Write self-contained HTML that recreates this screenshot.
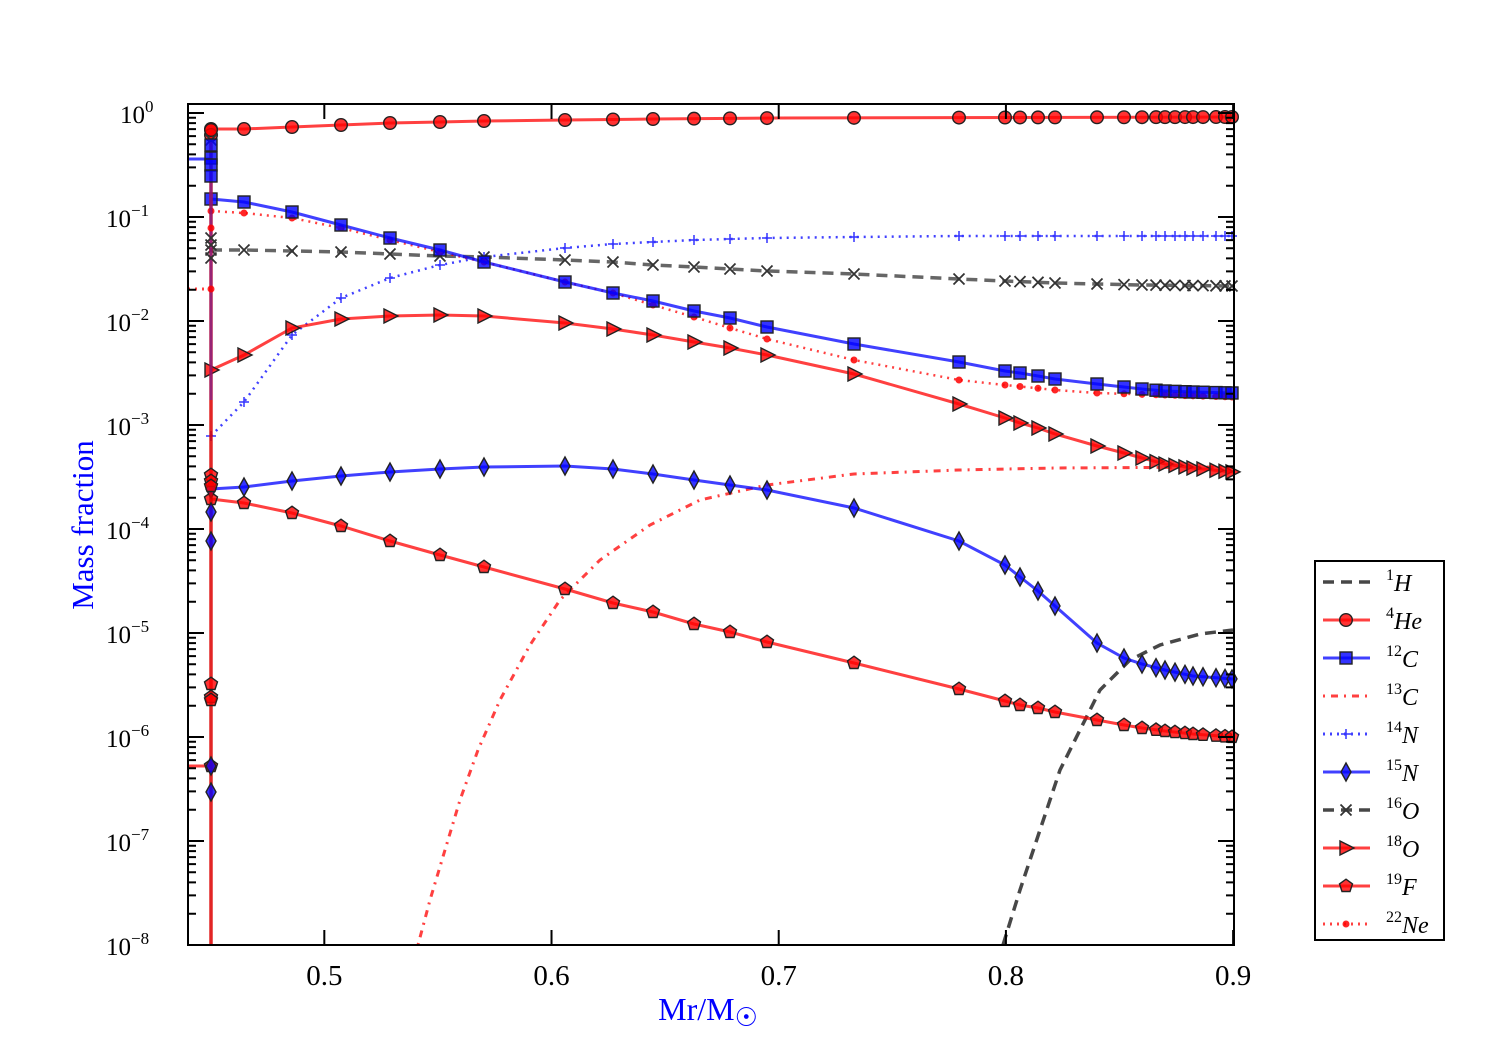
<!DOCTYPE html>
<html><head><meta charset="utf-8"><style>
html,body{margin:0;padding:0;background:#fff;width:1500px;height:1050px;overflow:hidden}
svg{display:block;font-family:"Liberation Serif",serif}
</style></head><body>
<svg id="s" width="1500" height="1050" xmlns="http://www.w3.org/2000/svg"></svg>
<script>
const S=document.getElementById('s');let h='';
const L=188,R=1234,T=104,B=945;
function Y(l){return 113-104*l;}
const grid=[211,244,292,341,390,440,484,565,613,653,694,730,767,854,959,1005,1020,1038,1055,1097,1124,1142,1156,1165,1175,1185,1193,1203,1216,1225,1232];
function interp(p,x){for(let i=0;i<p.length-1;i++){if(x>=p[i][0]&&x<=p[i+1][0]){const t=(x-p[i][0])/(p[i+1][0]-p[i][0]);return p[i][1]+t*(p[i+1][1]-p[i][1]);}}return p[p.length-1][1];}
function path(p,col,w,dash,op){h+=`<polyline points="${p.map(a=>a.join(',')).join(' ')}" fill="none" stroke="${col}" stroke-width="${w}" ${dash?`stroke-dasharray="${dash}"`:''} opacity="${op||0.75}"/>`;}
function mk(type,x,y,fill){const st=`fill="${fill}" fill-opacity="0.8" stroke="#222" stroke-width="1.4"`;
 if(type=='o')return `<circle cx="${x}" cy="${y}" r="6.3" ${st}/>`;
 if(type=='s')return `<rect x="${x-6}" y="${y-6}" width="12" height="12" ${st}/>`;
 if(type=='d')return `<polygon points="${x},${y-9} ${x+5},${y} ${x},${y+9} ${x-5},${y}" ${st}/>`;
 if(type=='t')return `<polygon points="${x-6},${y-7} ${x+8},${y} ${x-6},${y+7}" ${st}/>`;
 if(type=='p'){let q=[];for(let i=0;i<5;i++){const a=-Math.PI/2+i*2*Math.PI/5;q.push((x+6.8*Math.cos(a)).toFixed(1)+','+(y+6.8*Math.sin(a)).toFixed(1));}return `<polygon points="${q.join(' ')}" ${st}/>`;}
 if(type=='x')return `<path d="M${x-5.5},${y-5.5}L${x+5.5},${y+5.5}M${x-5.5},${y+5.5}L${x+5.5},${y-5.5}" stroke="#333" stroke-width="1.8"/>`;
 if(type=='+')return `<path d="M${x-5},${y}L${x+5},${y}M${x},${y-5}L${x},${y+5}" stroke="#33f" stroke-width="1.5"/>`;
 if(type=='.')return `<circle cx="${x}" cy="${y}" r="3.5" fill="red" opacity="0.85"/>`;}
function series(p,col,w,dash,m,fill){path(p,col,w,dash);let s='';for(const x of grid){if(x<p[0][0])continue;s+=mk(m,x,interp(p,x),fill);}h+=s;}
path([[188,159],[211,159]],'blue',3);
path([[188,289],[211,289]],'red',3,'2,5');
path([[188,766],[211,766]],'red',3);
const He=[[211,129],[244,129],[292,127],[341,125],[390,123],[440,122],[484,121],[565,120],[653,119],[778,118],[1233,117]];
const C12=[[211,199],[244,202],[292,212],[341,225],[390,238],[440,250],[484,262],[565,282],[613,293],[653,301],[694,311],[730,318],[767,327],[854,344],[959,362],[1005,371],[1020,373],[1038,376],[1055,379],[1097,384],[1124,387],[1142,389],[1165,391],[1193,392],[1233,393]];
const Ne=[[211,211],[244,213],[292,218],[341,228],[390,240],[440,252],[484,262],[565,282],[613,293],[653,305],[694,317],[730,328],[767,339],[854,360],[959,380],[1005,385],[1055,390],[1097,393],[1233,397]];
const O16=[[211,250],[244,250],[292,251],[341,252],[390,254],[440,256],[484,257],[565,260],[613,262],[653,265],[694,267],[730,269],[767,271],[854,274],[959,279],[1005,281],[1055,283],[1097,284],[1142,285],[1233,286]];
const N14=[[211,436],[244,402],[292,335],[341,298],[390,278],[440,265],[484,257],[565,248],[613,244],[653,242],[694,240],[767,238],[854,237],[959,236],[1233,236]];
const O18=[[211,370],[244,355],[292,328],[341,319],[390,316],[440,315],[484,316],[565,323],[613,329],[653,335],[694,342],[730,348],[767,355],[854,374],[959,404],[1005,418],[1020,423],[1038,428],[1055,434],[1097,446],[1124,453],[1142,458],[1165,464],[1193,468],[1233,472]];
const N15=[[211,489],[244,487],[292,481],[341,476],[390,472],[440,469],[484,467],[565,466],[613,469],[653,474],[694,480],[730,485],[767,490],[854,508],[959,541],[1005,565],[1020,577],[1038,591],[1055,606],[1097,643],[1124,658],[1142,664],[1165,670],[1193,676],[1233,679]];
const F19=[[211,499],[244,503],[292,513],[341,526],[390,541],[440,555],[484,567],[565,589],[613,603],[653,612],[694,624],[730,632],[767,642],[854,663],[959,689],[1005,701],[1020,705],[1038,708],[1055,712],[1097,720],[1124,725],[1142,728],[1165,731],[1193,734],[1233,737]];
const C13=[[418,945],[430,900],[445,850],[460,800],[478,750],[500,700],[530,645],[560,600],[600,560],[650,525],[700,500],[767,485],[854,474],[959,470],[1055,468],[1233,467]];
const H1=[[1003,945],[1020,890],[1040,830],[1060,770],[1080,730],[1100,690],[1130,660],[1160,645],[1200,634],[1233,630]];
path(C13,'red',3,'2,6,7,6');
path(H1,'#333',3.5,'11,7',0.9);
series(O16,'#333',3.5,'11,7','x');
series(N14,'blue',2.5,'2,5','+');
series(Ne,'red',2.5,'2,5','.');
series(F19,'red',3,null,'p','red');
series(N15,'blue',3,null,'d','blue');
series(O18,'red',3,null,'t','red');
series(C12,'blue',3,null,'s','blue');
series(He,'red',3,null,'o','red');
h+=`<line x1="211" y1="135" x2="211" y2="945" stroke="#d00" stroke-width="3.5" opacity="0.85"/>`;
h+=`<line x1="211" y1="150" x2="211" y2="400" stroke="#62a" stroke-width="3" opacity="0.6"/>`;
[[135,'o','red'],[130,'o','red'],[140,'x'],[145,'s','blue'],[158,'s','blue'],[165,'s','blue'],[176,'s','blue'],[238,'x'],[245,'x'],[258,'x'],[228,'.'],[289,'.'],[475,'p','red'],[481,'p','red'],[486,'p','red'],[512,'d','blue'],[541,'d','blue'],[684,'p','red'],[697,'p','red'],[700,'p','red'],[766,'p','red'],[766,'d','blue'],[792,'d','blue']].forEach(a=>{h+=mk(a[1],211,a[0],a[2]);});
h+=`<rect x="${L}" y="${T}" width="${R-L}" height="${B-T}" fill="none" stroke="#000" stroke-width="2"/>`;
let t='';
for(let d=0;d>=-8;d--){const y=Y(d);t+=`<path d="M${L},${y}H${L+16}M${R},${y}H${R-16}"/>`;
 const lab=`10<tspan dy="-11" font-size="17">${d==0?0:'−'+(-d)}</tspan>`;
 h+=`<text x="${d==0?120:106}" y="${y+10}" font-size="25" fill="#000">${lab}</text>`;}
for(let d=0;d>=-8;d--){for(let k=2;k<=9;k++){const y=Y(d-1+Math.log10(k));if(y<T||y>B)continue;t+=`<path d="M${L},${y}H${L+8}M${R},${y}H${R-8}"/>`;}}
[0.5,0.6,0.7,0.8,0.9].forEach(v=>{const x=188+(v-0.44)*2272;t+=`<path d="M${x},${B}V${B-15}M${x},${T}V${T+15}"/>`;h+=`<text x="${x}" y="985" font-size="29" text-anchor="middle">${v}</text>`;});
h+=`<g stroke="#000" stroke-width="2">${t}</g>`;
h+=`<text x="708" y="1020" font-size="32" fill="blue" text-anchor="middle">Mr/M<tspan font-size="26" dy="6">☉</tspan></text>`;
h+=`<text transform="translate(93,525) rotate(-90)" font-size="31" fill="blue" text-anchor="middle">Mass fraction</text>`;
h+=`<rect x="1315" y="561" width="129" height="379" fill="#fff" stroke="#000" stroke-width="2"/>`;
const lg=[['1','H','h'],['4','He','o'],['12','C','s'],['13','C','c'],['14','N','+'],['15','N','d'],['16','O','x'],['18','O','t'],['19','F','p'],['22','Ne','.']];
lg.forEach((e,i)=>{const y=582+i*38;const x0=1323,x1=1370,xm=1346;
 let col,dash=null,w=3;
 if(e[2]=='h'||e[2]=='x'){col='#333';dash='11,7';w=3.5}
 else if(e[2]=='s'||e[2]=='d'||e[2]=='+')col='blue';else col='red';
 if(e[2]=='c')dash='2,6,7,6';if(e[2]=='+'||e[2]=='.')dash='2,5';
 path([[x0,y],[x1,y]],col,w,dash,e[2]=='h'||e[2]=='x'?0.9:0.75);
 if(e[2]!='h'&&e[2]!='c')h+=mk(e[2],xm,y,col);
 h+=`<text x="1386" y="${y+9}" font-size="24"><tspan font-size="16" dy="-11">${e[0]}</tspan><tspan font-style="italic" dy="11">${e[1]}</tspan></text>`;});
S.innerHTML=h;
</script>
</body></html>
